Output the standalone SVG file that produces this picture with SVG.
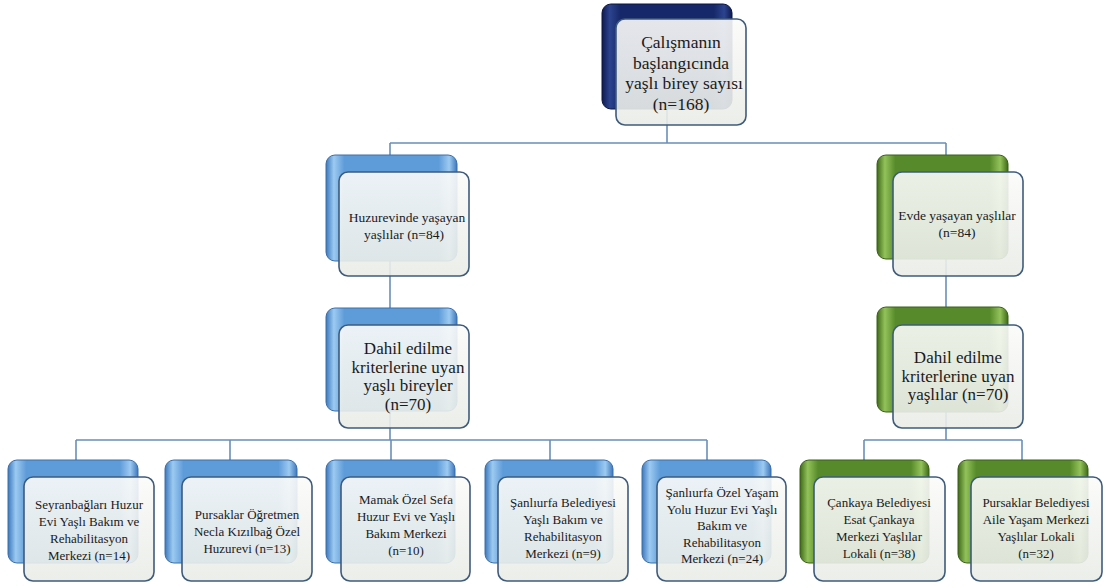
<svg xmlns="http://www.w3.org/2000/svg" width="1105" height="588" viewBox="0 0 1105 588">
<defs>
<linearGradient id="gNavy" x1="0" y1="0" x2="1" y2="0">
<stop offset="0" stop-color="#0e1b52"/><stop offset="0.06" stop-color="#2c438f"/><stop offset="0.14" stop-color="#16286a"/><stop offset="0.86" stop-color="#16286a"/><stop offset="0.94" stop-color="#2c438f"/><stop offset="1" stop-color="#0e1b52"/>
</linearGradient>
<linearGradient id="gBlue" x1="0" y1="0" x2="1" y2="0">
<stop offset="0" stop-color="#3c78bd"/><stop offset="0.06" stop-color="#9ccaf1"/><stop offset="0.14" stop-color="#5e9cd9"/><stop offset="0.86" stop-color="#5e9cd9"/><stop offset="0.94" stop-color="#9ccaf1"/><stop offset="1" stop-color="#3c78bd"/>
</linearGradient>
<linearGradient id="gGreen" x1="0" y1="0" x2="1" y2="0">
<stop offset="0" stop-color="#3f6a18"/><stop offset="0.06" stop-color="#93c25a"/><stop offset="0.14" stop-color="#578a2a"/><stop offset="0.86" stop-color="#578a2a"/><stop offset="0.94" stop-color="#93c25a"/><stop offset="1" stop-color="#3f6a18"/>
</linearGradient>
<linearGradient id="gFront" x1="0" y1="0" x2="0" y2="1">
<stop offset="0" stop-color="#fbfbfa"/><stop offset="1" stop-color="#e9ece7"/>
</linearGradient>
</defs>
<style>
.back{rx:9px;ry:9px;}
.navy{fill:url(#gNavy);stroke:#0b1640;stroke-width:1;}
.blue{fill:url(#gBlue);stroke:#3a6ea8;stroke-width:1;}
.green{fill:url(#gGreen);stroke:#3a6018;stroke-width:1;}
.front{fill:url(#gFront);fill-opacity:0.9;stroke:#3f5b7c;stroke-width:1.6;rx:9px;ry:9px;}
.conn{stroke:#6a8fba;stroke-width:1.6;fill:none;}
text{font-family:"Liberation Serif","Times New Roman",serif;fill:#1a1a1a;text-anchor:middle;}
.t1{font-size:17.5px;}
.t2{font-size:13.5px;}
.t3{font-size:17px;}
.t4{font-size:13px;}
</style>
<rect width="1105" height="588" fill="#ffffff"/>
<g id="connectors">
<path class="conn" d="M667 110 V143 M390 143 H946 M390 143 V440 M946 143 V440 M76 440 H707 M76 440 V462 M230 440 V462 M391 440 V462 M550 440 V462 M707 440 V462 M864 440 H1022 M864 440 V462 M1022 440 V462"/>
</g>
<g id="node-top">
<rect class="back navy" x="602" y="4" width="130" height="105"/>
<rect class="front" x="616" y="19" width="130" height="106"/>
<text class="t1" x="681" y="48">Çalışmanın</text>
<text class="t1" x="681" y="68.5">başlangıcında</text>
<text class="t1" x="684" y="89">yaşlı birey  sayısı</text>
<text class="t1" x="681" y="109.5">(n=168)</text>
</g>
<g id="node-huzurevi">
<rect class="back blue" x="326" y="155" width="131" height="106"/>
<rect class="front" x="339" y="172" width="130" height="104"/>
<text class="t2" x="407" y="222">Huzurevinde yaşayan</text>
<text class="t2" x="404" y="239">yaşlılar (n=84)</text>
</g>
<g id="node-evde">
<rect class="back green" x="877" y="155" width="131" height="104"/>
<rect class="front" x="893" y="172" width="130" height="104"/>
<text class="t2" x="957" y="220">Evde yaşayan yaşlılar</text>
<text class="t2" x="957" y="237">(n=84)</text>
</g>
<g id="node-dahil-huzur">
<rect class="back blue" x="326" y="308" width="131" height="103"/>
<rect class="front" x="339" y="325" width="130" height="103"/>
<text class="t3" x="408" y="354">Dahil edilme</text>
<text class="t3" x="408" y="372.5">kriterlerine uyan</text>
<text class="t3" x="408" y="391">yaşlı bireyler</text>
<text class="t3" x="408" y="409.5">(n=70)</text>
</g>
<g id="node-dahil-evde">
<rect class="back green" x="877" y="307" width="131" height="105"/>
<rect class="front" x="893" y="325" width="130" height="103"/>
<text class="t3" x="958" y="363">Dahil edilme</text>
<text class="t3" x="958" y="381.5">kriterlerine uyan</text>
<text class="t3" x="958" y="400">yaşlılar (n=70)</text>
</g>
<g id="node-seyranbaglari">
<rect class="back blue" x="8" y="460" width="130" height="103"/>
<rect class="front" x="24" y="477" width="130" height="104"/>
<text class="t4" x="89" y="509">Seyranbağları Huzur</text>
<text class="t4" x="89" y="526">Evi Yaşlı Bakım ve</text>
<text class="t4" x="89" y="543">Rehabilitasyon</text>
<text class="t4" x="89" y="560">Merkezi (n=14)</text>
</g>
<g id="node-pursaklar-ogretmen">
<rect class="back blue" x="165" y="460" width="132" height="103"/>
<rect class="front" x="182" y="477" width="130" height="104"/>
<text class="t4" x="247" y="519">Pursaklar Öğretmen</text>
<text class="t4" x="247" y="536">Necla Kızılbağ Özel</text>
<text class="t4" x="247" y="553">Huzurevi (n=13)</text>
</g>
<g id="node-mamak">
<rect class="back blue" x="326" y="460" width="129" height="103"/>
<rect class="front" x="341" y="477" width="129" height="104"/>
<text class="t4" x="406" y="504">Mamak Özel Sefa</text>
<text class="t4" x="406" y="521">Huzur Evi ve Yaşlı</text>
<text class="t4" x="406" y="538">Bakım Merkezi</text>
<text class="t4" x="406" y="555">(n=10)</text>
</g>
<g id="node-sanliurfa-belediye">
<rect class="back blue" x="485" y="460" width="128" height="103"/>
<rect class="front" x="498" y="477" width="130" height="104"/>
<text class="t4" x="563" y="507">Şanlıurfa Belediyesi</text>
<text class="t4" x="563" y="524">Yaşlı Bakım ve</text>
<text class="t4" x="563" y="541">Rehabilitasyon</text>
<text class="t4" x="563" y="558">Merkezi (n=9)</text>
</g>
<g id="node-sanliurfa-ozel">
<rect class="back blue" x="642" y="460" width="129" height="103"/>
<rect class="front" x="657" y="477" width="129" height="104"/>
<text class="t4" x="722" y="497">Şanlıurfa Özel Yaşam</text>
<text class="t4" x="722" y="513.5">Yolu Huzur Evi Yaşlı</text>
<text class="t4" x="722" y="530">Bakım ve</text>
<text class="t4" x="722" y="546.5">Rehabilitasyon</text>
<text class="t4" x="722" y="563">Merkezi (n=24)</text>
</g>
<g id="node-cankaya">
<rect class="back green" x="800" y="460" width="129" height="103"/>
<rect class="front" x="814" y="477" width="131" height="104"/>
<text class="t4" x="879" y="507">Çankaya Belediyesi</text>
<text class="t4" x="879" y="524">Esat Çankaya</text>
<text class="t4" x="879" y="541">Merkezi Yaşlılar</text>
<text class="t4" x="879" y="558">Lokali (n=38)</text>
</g>
<g id="node-pursaklar-belediye">
<rect class="back green" x="958" y="460" width="130" height="103"/>
<rect class="front" x="971" y="477" width="131" height="104"/>
<text class="t4" x="1036" y="507">Pursaklar Belediyesi</text>
<text class="t4" x="1036" y="524">Aile Yaşam Merkezi</text>
<text class="t4" x="1036" y="541">Yaşlılar Lokali</text>
<text class="t4" x="1036" y="558">(n=32)</text>
</g>
</svg>
